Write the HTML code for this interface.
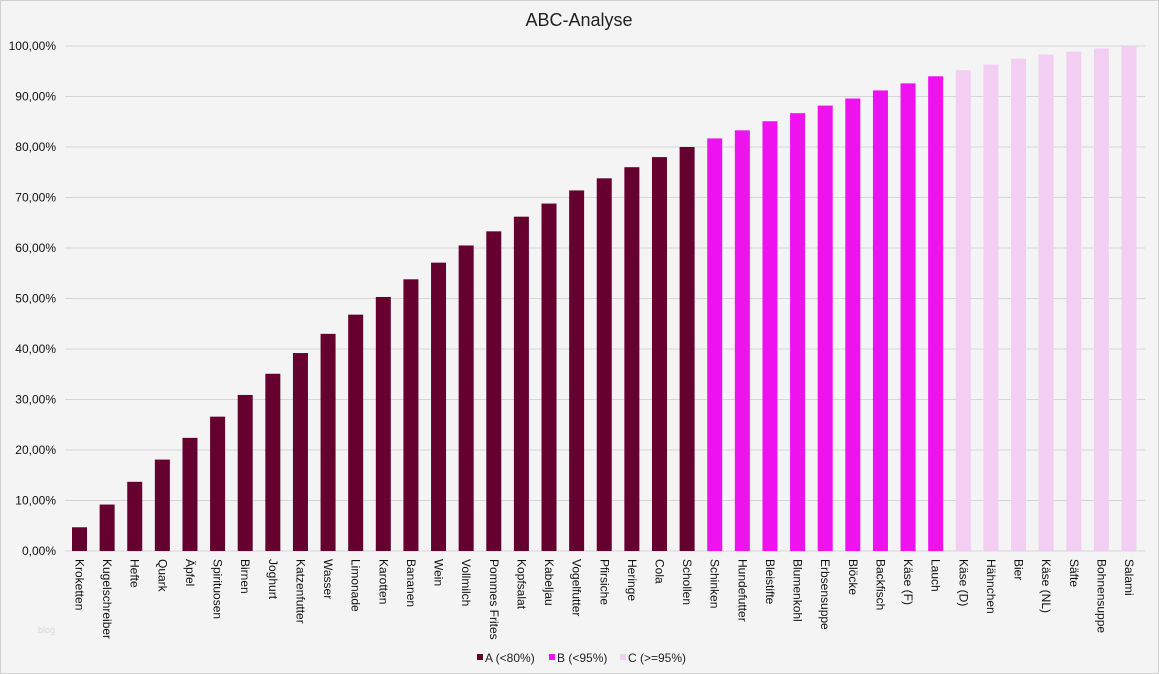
<!DOCTYPE html>
<html><head><meta charset="utf-8"><style>
body{margin:0;background:#f4f4f4;}
svg{display:block;font-family:"Liberation Sans",Arial,sans-serif;}
</style></head><body>
<svg width="1159" height="674" xmlns="http://www.w3.org/2000/svg">
<rect x="0.5" y="0.5" width="1158" height="673" fill="#f4f4f4" stroke="#d0d0d0"/>
<text x="579" y="26" font-size="18" text-anchor="middle" fill="#222">ABC-Analyse</text>
<g id="grid" stroke="#d6d6d6" stroke-width="1"></g>
<g id="bars"></g>
<g id="lbl" font-size="12" fill="#111"></g>
<text x="38" y="633" font-size="9" fill="#d8d8d8">blog</text>
<rect x="477" y="654" width="6" height="6" fill="#66002e"/>
<text x="485" y="662" font-size="12" fill="#222">A (&lt;80%)</text>
<rect x="549" y="654" width="6" height="6" fill="#ee12ee"/>
<text x="557" y="662" font-size="12" fill="#222">B (&lt;95%)</text>
<rect x="620" y="654" width="6" height="6" fill="#f2cef2"/>
<text x="628" y="662" font-size="12" fill="#222">C (&gt;=95%)</text>
</svg>
<script>
const ns="http://www.w3.org/2000/svg";
const names=["Kroketten","Kugelschreiber","Hefte","Quark","Äpfel","Spirituosen","Birnen","Joghurt","Katzenfutter","Wasser","Limonade","Karotten","Bananen","Wein","Vollmilch","Pommes Frites","Kopfsalat","Kabeljau","Vogelfutter","Pfirsiche","Heringe","Cola","Schollen","Schinken","Hundefutter","Bleistifte","Blumenkohl","Erbsensuppe","Blöcke","Backfisch","Käse (F)","Lauch","Käse (D)","Hähnchen","Bier","Käse (NL)","Säfte","Bohnensuppe","Salami"];
const vals=[4.7,9.2,13.7,18.1,22.4,26.6,30.9,35.1,39.2,43.0,46.8,50.3,53.8,57.1,60.5,63.3,66.2,68.8,71.4,73.8,76.0,78.0,80.0,81.7,83.3,85.1,86.7,88.2,89.6,91.2,92.6,94.0,95.2,96.3,97.5,98.3,98.9,99.5,100];
const y0=551,k=5.05,g=document.getElementById('grid'),b=document.getElementById('bars'),l=document.getElementById('lbl');
function el(t,a,p,txt){const e=document.createElementNS(ns,t);for(const q in a)e.setAttribute(q,a[q]);if(txt)e.textContent=txt;p.appendChild(e);return e;}
for(let i=0;i<=10;i++){const y=y0-i*10*k;el('line',{x1:65,x2:1145,y1:y,y2:y},g);el('text',{x:56,y:y+4,'text-anchor':'end'},l,(i*10)+',00%');}
const step=(1129-79.5)/38;
vals.forEach((v,i)=>{const cx=79.5+i*step;const c=i<23?'#66002e':i<32?'#ee12ee':'#f2cef2';
el('rect',{x:cx-7.5,y:y0-v*k,width:15,height:v*k,fill:c},b);
el('text',{transform:`translate(${cx-4},${y0+8}) rotate(90)`},l,names[i]);});
</script>
</body></html>
